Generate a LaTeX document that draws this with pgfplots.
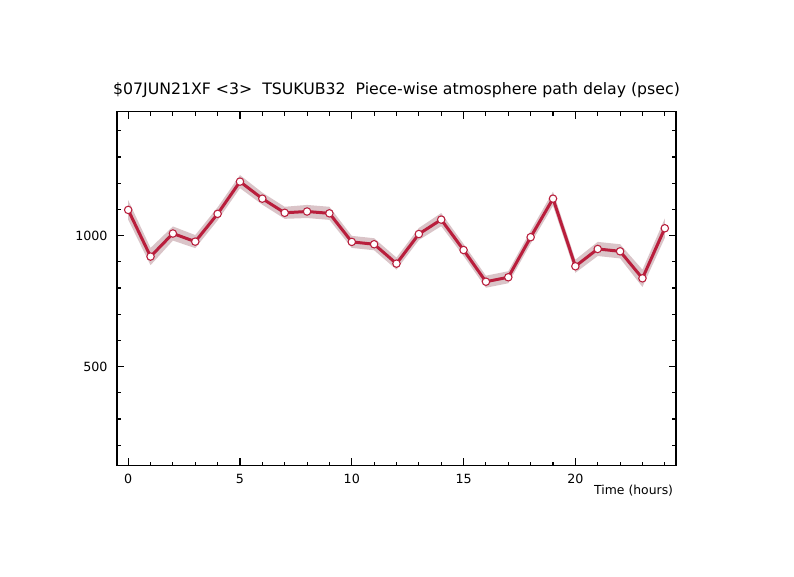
\documentclass[border=0pt]{standalone}
\usepackage{pgfplots}
\usepackage{pgfplotstable}
\pgfplotsset{compat=1.18}
\usepackage{fontspec}
\setmainfont{DejaVu Sans}
\definecolor{crim}{RGB}{185,30,60}
\definecolor{bandc}{RGB}{218,196,200}
\pgfplotstableread{
x y
0 1098
1 920
2 1008
3 977
4 1083
5 1206
6 1141
7 1087
8 1092
9 1085
10 976
11 967
12 893
13 1006
14 1061
15 945
16 824
17 841
18 994
19 1141
20 883
21 949
22 940
23 837
24 1028
}\data
% uncertainty band: upper edge (0..24) then lower edge (24..0)
\pgfplotstableread{
x y
0 1135
1 953
2 1035
3 1002
4 1108
5 1231
6 1164
7 1110
8 1117
9 1110
10 999
11 990
12 916
13 1029
14 1086
15 968
16 847
17 864
18 1019
19 1168
20 908
21 976
22 967
23 870
24 1065
24 991
23 804
22 913
21 922
20 858
19 1114
18 969
17 818
16 801
15 922
14 1036
13 983
12 870
11 944
10 953
9 1060
8 1067
7 1064
6 1118
5 1181
4 1058
3 952
2 981
1 887
0 1061
}\band
\begin{document}
\begin{tikzpicture}
\path[use as bounding box] (-87.75pt,-83.5pt) rectangle ++(595.5pt,432.75pt);
\begin{axis}[
  at={(0,0)}, anchor=south west,
  scale only axis,
  width=419.25pt, height=265.5pt,
  xmin=-0.5, xmax=24.5,
  ymin=122, ymax=1473,
  xtick={0,5,10,15,20},
  minor xtick={0,...,24},
  ytick={500,1000},
  minor ytick={200,300,...,1400},
  tick align=inside,
  major tick length=5.5pt,
  minor tick length=3pt,
  every tick/.style={black, line width=0.8pt},
  axis line style={black, line width=1pt},
  /pgf/number format/assume math mode=true,
  /pgf/number format/1000 sep={},
  tick label style={font=\fontsize{9.5pt}{11pt}\selectfont},
  x tick label style={anchor=north, inner sep=0pt, yshift=-6.2pt},
  y tick label style={anchor=east, inner sep=0pt, xshift=-6.9pt},
  title={\$07JUN21XF <3>\ \ TSUKUB32\ \ Piece-wise atmosphere path delay (psec)},
  title style={at={(0.5,1)}, anchor=base, yshift=6.5pt, inner sep=0pt, font=\fontsize{11.8pt}{14pt}\selectfont},
  xlabel={Time (hours)},
  xlabel style={at={(axis description cs:1,0)}, anchor=base east, yshift=-22pt, xshift=-2pt, inner sep=0pt, font=\fontsize{9.3pt}{11pt}\selectfont},
]
\addplot[fill=bandc, draw=none] table[x=x, y=y] {\band} -- cycle;
\addplot[crim, line width=2.25pt, mark=*, mark size=2.8pt,
  mark options={fill=white, draw=crim, line width=0.8pt}] table[x=x, y=y] {\data};
\end{axis}
\end{tikzpicture}
\end{document}
